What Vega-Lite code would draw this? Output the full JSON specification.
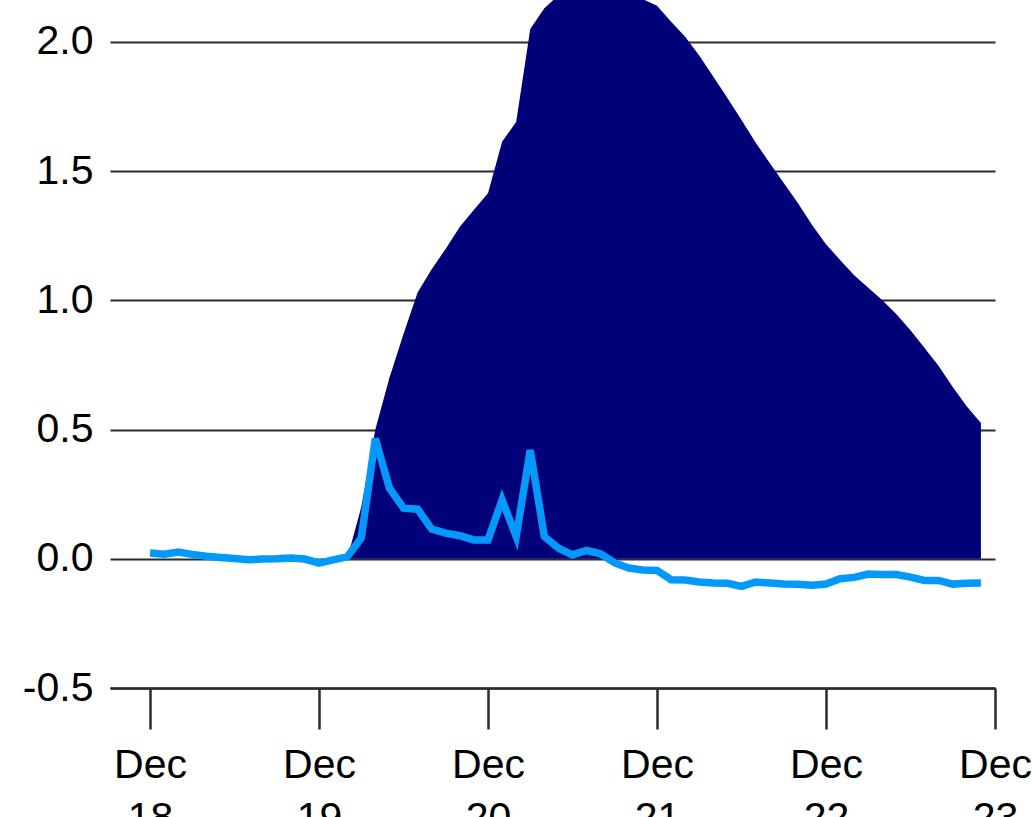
{
  "$schema": "https://vega.github.io/schema/vega-lite/v6.json",
  "width": 885,
  "height": 688,
  "autosize": {"type": "none"},
  "padding": {"left": 110, "top": 0, "right": 38, "bottom": 129},
  "background": "white",
  "config": {
    "view": {"stroke": null},
    "font": "Liberation Sans"
  },
  "data": {
    "values": [
      {"time": "2022-12-18T00:00:00Z", "line": 0.022},
      {"time": "2022-12-18T02:00:00Z", "line": 0.018},
      {"time": "2022-12-18T04:00:00Z", "line": 0.026},
      {"time": "2022-12-18T06:00:00Z", "line": 0.017},
      {"time": "2022-12-18T08:00:00Z", "line": 0.010},
      {"time": "2022-12-18T10:00:00Z", "line": 0.005},
      {"time": "2022-12-18T12:00:00Z", "line": 0.001},
      {"time": "2022-12-18T14:00:00Z", "line": -0.004},
      {"time": "2022-12-18T16:00:00Z", "line": -0.001},
      {"time": "2022-12-18T18:00:00Z", "line": 0.000},
      {"time": "2022-12-18T20:00:00Z", "line": 0.003},
      {"time": "2022-12-18T22:00:00Z", "line": -0.001},
      {"time": "2022-12-19T00:00:00Z", "line": -0.017},
      {"time": "2022-12-19T02:00:00Z", "line": -0.004},
      {"time": "2022-12-19T04:00:00Z", "line": 0.007, "area": 0},
      {"time": "2022-12-19T06:00:00Z", "line": 0.08, "area": 0.2},
      {"time": "2022-12-19T08:00:00Z", "line": 0.465, "area": 0.5},
      {"time": "2022-12-19T10:00:00Z", "line": 0.273, "area": 0.70},
      {"time": "2022-12-19T12:00:00Z", "line": 0.196, "area": 0.87},
      {"time": "2022-12-19T14:00:00Z", "line": 0.192, "area": 1.03},
      {"time": "2022-12-19T16:00:00Z", "line": 0.115, "area": 1.12},
      {"time": "2022-12-19T18:00:00Z", "line": 0.099, "area": 1.2},
      {"time": "2022-12-19T20:00:00Z", "line": 0.089, "area": 1.285},
      {"time": "2022-12-19T22:00:00Z", "line": 0.073, "area": 1.35},
      {"time": "2022-12-20T00:00:00Z", "line": 0.073, "area": 1.414},
      {"time": "2022-12-20T02:00:00Z", "line": 0.228, "area": 1.614},
      {"time": "2022-12-20T04:00:00Z", "line": 0.086, "area": 1.69},
      {"time": "2022-12-20T06:00:00Z", "line": 0.42, "area": 2.05},
      {"time": "2022-12-20T08:00:00Z", "line": 0.086, "area": 2.13},
      {"time": "2022-12-20T10:00:00Z", "line": 0.041, "area": 2.18},
      {"time": "2022-12-20T12:00:00Z", "line": 0.015, "area": 2.21},
      {"time": "2022-12-20T14:00:00Z", "line": 0.032, "area": 2.22},
      {"time": "2022-12-20T16:00:00Z", "line": 0.019, "area": 2.22},
      {"time": "2022-12-20T18:00:00Z", "line": -0.016, "area": 2.21},
      {"time": "2022-12-20T20:00:00Z", "line": -0.036, "area": 2.19},
      {"time": "2022-12-20T22:00:00Z", "line": -0.043, "area": 2.165},
      {"time": "2022-12-21T00:00:00Z", "line": -0.045, "area": 2.14},
      {"time": "2022-12-21T02:00:00Z", "line": -0.081, "area": 2.078},
      {"time": "2022-12-21T04:00:00Z", "line": -0.082, "area": 2.02},
      {"time": "2022-12-21T06:00:00Z", "line": -0.09, "area": 1.947},
      {"time": "2022-12-21T08:00:00Z", "line": -0.094, "area": 1.865},
      {"time": "2022-12-21T10:00:00Z", "line": -0.095, "area": 1.783},
      {"time": "2022-12-21T12:00:00Z", "line": -0.107, "area": 1.698},
      {"time": "2022-12-21T14:00:00Z", "line": -0.09, "area": 1.611},
      {"time": "2022-12-21T16:00:00Z", "line": -0.094, "area": 1.531},
      {"time": "2022-12-21T18:00:00Z", "line": -0.098, "area": 1.454},
      {"time": "2022-12-21T20:00:00Z", "line": -0.099, "area": 1.377},
      {"time": "2022-12-21T22:00:00Z", "line": -0.102, "area": 1.292},
      {"time": "2022-12-22T00:00:00Z", "line": -0.098, "area": 1.217},
      {"time": "2022-12-22T02:00:00Z", "line": -0.077, "area": 1.156},
      {"time": "2022-12-22T04:00:00Z", "line": -0.072, "area": 1.097},
      {"time": "2022-12-22T06:00:00Z", "line": -0.059, "area": 1.049},
      {"time": "2022-12-22T08:00:00Z", "line": -0.061, "area": 1.0},
      {"time": "2022-12-22T10:00:00Z", "line": -0.061, "area": 0.946},
      {"time": "2022-12-22T12:00:00Z", "line": -0.071, "area": 0.884},
      {"time": "2022-12-22T14:00:00Z", "line": -0.084, "area": 0.816},
      {"time": "2022-12-22T16:00:00Z", "line": -0.084, "area": 0.746},
      {"time": "2022-12-22T18:00:00Z", "line": -0.098, "area": 0.665},
      {"time": "2022-12-22T20:00:00Z", "line": -0.095, "area": 0.589},
      {"time": "2022-12-22T22:00:00Z", "line": -0.094, "area": 0.525}
    ]
  },
  "encoding": {
    "x": {
      "field": "time",
      "type": "temporal",
      "title": null,
      "scale": {
        "type": "utc",
        "domain": [
          {"year": 2022, "month": 12, "date": 17, "hours": 18, "minutes": 19, "utc": true},
          {"year": 2022, "month": 12, "date": 23, "hours": 0, "minutes": 0, "utc": true}
        ],
        "nice": false
      },
      "axis": {
        "values": [
          {"year": 2022, "month": 12, "date": 18, "utc": true},
          {"year": 2022, "month": 12, "date": 19, "utc": true},
          {"year": 2022, "month": 12, "date": 20, "utc": true},
          {"year": 2022, "month": 12, "date": 21, "utc": true},
          {"year": 2022, "month": 12, "date": 22, "utc": true},
          {"year": 2022, "month": 12, "date": 23, "utc": true}
        ],
        "labelExpr": "[utcFormat(datum.value, '%b'), utcFormat(datum.value, '%d')]",
        "grid": false,
        "domain": true,
        "domainColor": "#2b2b2b",
        "domainWidth": 2.5,
        "ticks": true,
        "tickColor": "#2b2b2b",
        "tickWidth": 2.5,
        "tickSize": 41,
        "labelFontSize": 41,
        "labelColor": "#000000",
        "labelFont": "Liberation Sans",
        "labelPadding": 16,
        "labelLineHeight": 53,
        "labelFlush": false,
        "labelOverlap": false,
        "labelAlign": "center",
        "labelBaseline": "top"
      }
    }
  },
  "layer": [
    {
      "transform": [{"filter": "isValid(datum.area)"}],
      "mark": {"type": "area", "color": "#000078", "clip": true, "opacity": 1},
      "encoding": {
        "y": {
          "field": "area",
          "type": "quantitative",
          "title": null,
          "scale": {"domain": [-0.5, 2.162], "nice": false, "zero": false},
          "axis": {
            "values": [-0.5, 0, 0.5, 1, 1.5, 2],
            "labelExpr": "datum.value < 0 ? '-' + format(-datum.value, '.1f') : format(datum.value, '.1f')",
            "grid": true,
            "gridColor": "#2b2b2b",
            "gridWidth": 2.2,
            "domain": false,
            "ticks": false,
            "labelFontSize": 41,
            "labelColor": "#000000",
            "labelFont": "Liberation Sans",
            "labelPadding": 17,
            "labelBaseline": "middle"
          }
        }
      }
    },
    {
      "mark": {"type": "line", "color": "#0399FA", "strokeWidth": 7.5},
      "encoding": {
        "y": {"field": "line", "type": "quantitative"}
      }
    }
  ]
}
